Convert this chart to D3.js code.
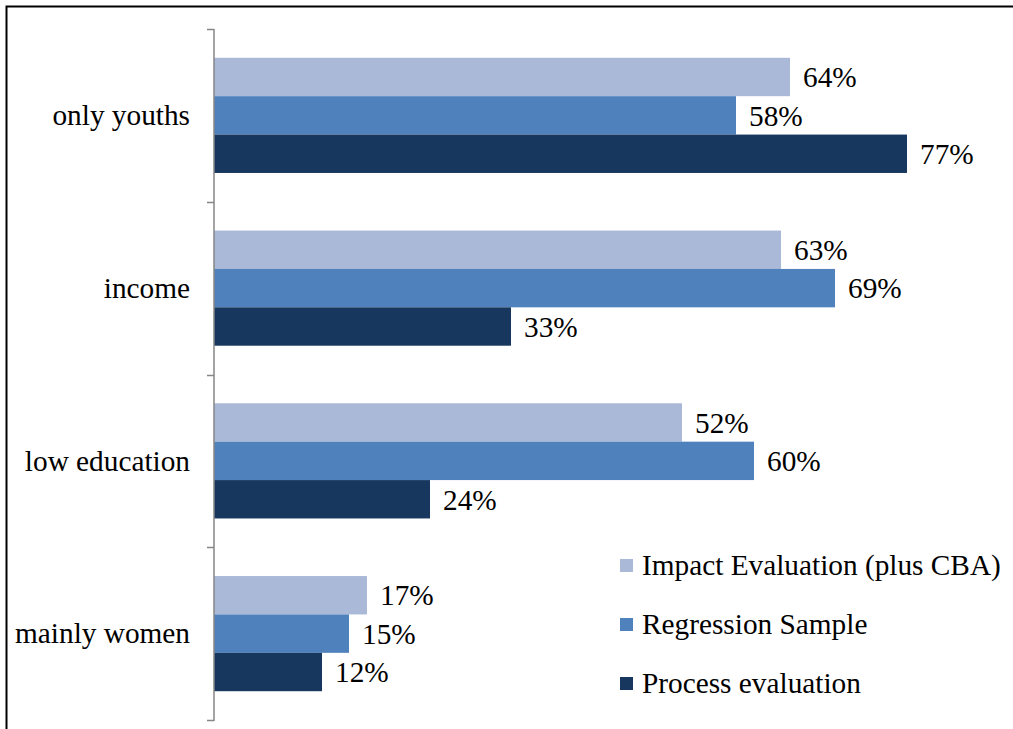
<!DOCTYPE html>
<html>
<head>
<meta charset="utf-8">
<script src="https://cdn.jsdelivr.net/npm/d3@7"></script>
<style>
  html, body { margin: 0; padding: 0; background: #fff; }
  svg { display: block; }
</style>
</head>
<body>
<script>
// Target groups and share of programmes per evaluation sample
const categories = ["only youths", "income", "low education", "mainly women"];
const seriesNames = ["Impact Evaluation (plus CBA)", "Regression Sample", "Process evaluation"];
const impactEvaluation = [64, 63, 52, 17];
const regressionSample = [58, 69, 60, 15];
const processEvaluation = [77, 33, 24, 12];
const seriesColors = ["#AAB9D7", "#4F81BD", "#17375E"];

const series = [impactEvaluation, regressionSample, processEvaluation];

const W = 1013, H = 729;
const FONT = "Liberation Serif";
const FS = "29.3px";
const svg = d3.select("body").append("svg")
  .attr("width", W).attr("height", H);

// Outer chart frame
svg.append("rect")
  .attr("x", 6.5).attr("y", 6.5)
  .attr("width", W + 20).attr("height", H + 20)
  .attr("fill", "none").attr("stroke", "#000").attr("stroke-width", 2);

const plotLeft = 214, plotTop = 29, plotBottom = 720;

const x = d3.scaleLinear().domain([0, 90]).range([plotLeft, plotLeft + 810]);
const y = d3.scaleBand().domain(categories).range([plotTop, plotBottom]);
const inner = d3.scaleBand().domain(d3.range(series.length))
  .range([0, y.bandwidth()]).paddingOuter(0.75).paddingInner(0);

// Bars with value labels
const groups = svg.append("g").selectAll("g")
  .data(categories).join("g")
  .attr("transform", d => `translate(0,${y(d)})`);

groups.each(function(cat, ci) {
  const g = d3.select(this);
  series.forEach((vals, si) => {
    const v = vals[ci];
    g.append("rect")
      .attr("x", x(0))
      .attr("y", inner(si))
      .attr("width", x(v) - x(0))
      .attr("height", inner.bandwidth())
      .attr("fill", seriesColors[si]);
    g.append("text")
      .attr("x", x(v) + 13)
      .attr("y", inner(si) + inner.bandwidth() / 2)
      .attr("dy", "0.35em")
      .attr("font-family", FONT)
      .attr("font-size", FS)
      .attr("fill", "#000")
      .text(v + "%");
  });
});

// Category axis: vertical line with separators between groups
const axisG = svg.append("g").attr("transform", `translate(${plotLeft},0)`);
const boundaries = categories.map(c => y(c)).concat([plotBottom]);
axisG.selectAll("line.sep").data(boundaries).join("line")
  .attr("class", "sep")
  .attr("x1", -7).attr("x2", 0)
  .attr("y1", d => Math.round(d) + 0.5).attr("y2", d => Math.round(d) + 0.5)
  .attr("stroke", "#868686").attr("stroke-width", 1.5);
axisG.append("line")
  .attr("x1", 0).attr("x2", 0)
  .attr("y1", plotTop).attr("y2", plotBottom + 1)
  .attr("stroke", "#868686").attr("stroke-width", 1.5);

svg.append("g").selectAll("text")
  .data(categories).join("text")
  .attr("x", 190)
  .attr("y", d => y(d) + y.bandwidth() / 2)
  .attr("dy", "0.33em")
  .attr("text-anchor", "end")
  .attr("font-family", FONT)
  .attr("font-size", FS)
  .attr("fill", "#000")
  .text(d => d);

// Legend
const legend = svg.append("g").attr("transform", "translate(620,565)");
seriesNames.forEach((name, i) => {
  const row = legend.append("g").attr("transform", `translate(0,${i * 59})`);
  row.append("rect").attr("x", 0).attr("y", -6).attr("width", 13).attr("height", 13)
    .attr("fill", seriesColors[i]);
  row.append("text").attr("x", 22).attr("y", 0).attr("dy", "0.33em")
    .attr("font-family", FONT)
    .attr("font-size", FS).attr("fill", "#000").text(name);
});
</script>
</body>
</html>
